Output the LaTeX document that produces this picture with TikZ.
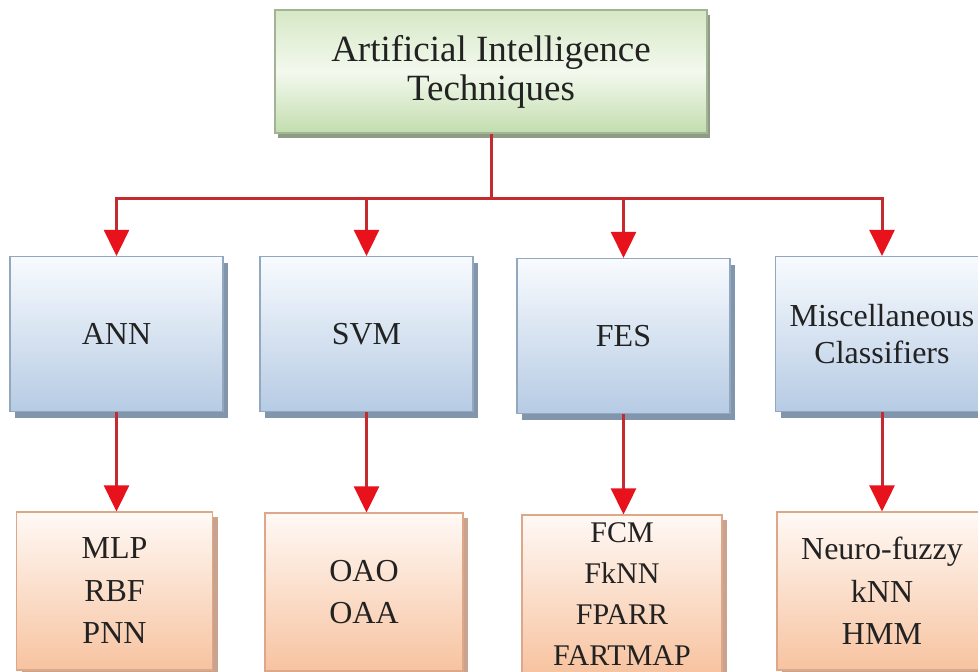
\documentclass[tikz,border=0pt]{standalone}
\usepackage{fontspec}
\setmainfont{Liberation Serif}
\usetikzlibrary{arrows.meta,shadows,calc}
\definecolor{gTop}{HTML}{D6E8C6}
\definecolor{gMid}{HTML}{F3F9EE}
\definecolor{gBot}{HTML}{C3DDAE}
\definecolor{gBorder}{HTML}{A3B496}
\definecolor{gShadow}{HTML}{8E9C86}
\definecolor{bTop}{HTML}{F8FBFE}
\definecolor{bBot}{HTML}{B6CBE4}
\definecolor{bBorder}{HTML}{93A8BE}
\definecolor{bShadow}{HTML}{8196AD}
\definecolor{oTop}{HTML}{FFF9F5}
\definecolor{oBot}{HTML}{F7C3A0}
\definecolor{oBorder}{HTML}{DDA889}
\definecolor{oShadow}{HTML}{C9A38E}
\definecolor{lineRed}{HTML}{C42A2E}
\definecolor{headRed}{HTML}{E8121C}
\definecolor{txt}{HTML}{222222}
\tikzset{
  topbox/.style={rectangle, draw=gBorder, line width=1.2pt, top color=gTop, bottom color=gBot, middle color=gMid,
    minimum width=432pt, minimum height=123pt, align=center, text=txt,
    font=\fontsize{37}{39}\selectfont,
    drop shadow={shadow xshift=3pt, shadow yshift=-5pt, fill=gShadow, opacity=1}},
  midbox/.style={rectangle, draw=bBorder, line width=1.2pt, top color=bTop, bottom color=bBot,
    minimum width=213pt, minimum height=155pt, align=center, text=txt,
    font=\fontsize{32}{37}\selectfont,
    drop shadow={shadow xshift=5pt, shadow yshift=-6pt, fill=bShadow, opacity=1}},
  lowbox/.style={rectangle, draw=oBorder, line width=1.2pt, top color=oTop, bottom color=oBot,
    minimum height=158pt, align=center, text=txt,
    font=\fontsize{32}{42.5}\selectfont,
    drop shadow={shadow xshift=5pt, shadow yshift=-5pt, fill=oShadow, opacity=1}},
  link/.style={draw=lineRed, line width=3pt},
  arr/.style={link, -{Triangle[width=25pt,length=26pt,color=headRed]}}
}
\begin{document}
\begin{tikzpicture}[x=1pt,y=-1pt]
\useasboundingbox (0,0) rectangle (978,672);
\fill[white] (0,0) rectangle (978,672);
\clip (0,0) rectangle (978,672);
\node[topbox] (top) at (491,71.5) {Artificial Intelligence\\Techniques};
\node[midbox] (ann) at (116.5,334) {ANN};
\node[midbox] (svm) at (366.5,334) {SVM};
\node[midbox] (fes) at (623.5,336) {FES};
\node[midbox] (misc) at (882,334) {Miscellaneous\\Classifiers};
\node[lowbox, minimum width=196pt] (mlp) at (114.5,591) {MLP\\RBF\\PNN};
\node[lowbox, minimum width=198pt] (oao) at (364,592) {OAO\\OAA};
\node[lowbox, minimum width=200pt, font=\fontsize{30}{41}\selectfont] (fcm) at (622,594) {FCM\\FkNN\\FPARR\\FARTMAP};
\node[lowbox, minimum width=210pt] (neuro) at (882,591) {Neuro-fuzzy\\kNN\\HMM};
\coordinate (bus) at ($(top.south)+(0,65)$);
\draw[link] (top.south) -- (bus);
\draw[arr] (bus) -| (ann.north);
\draw[arr] (bus) -| (svm.north);
\draw[arr] (bus) -| (fes.north);
\draw[arr] (bus) -| (misc.north);
\draw[arr] (ann.south) -- (ann.south |- mlp.north);
\draw[arr] (svm.south) -- (svm.south |- oao.north);
\draw[arr] (fes.south) -- (fes.south |- fcm.north);
\draw[arr] (misc.south) -- (misc.south |- neuro.north);
\end{tikzpicture}
\end{document}
